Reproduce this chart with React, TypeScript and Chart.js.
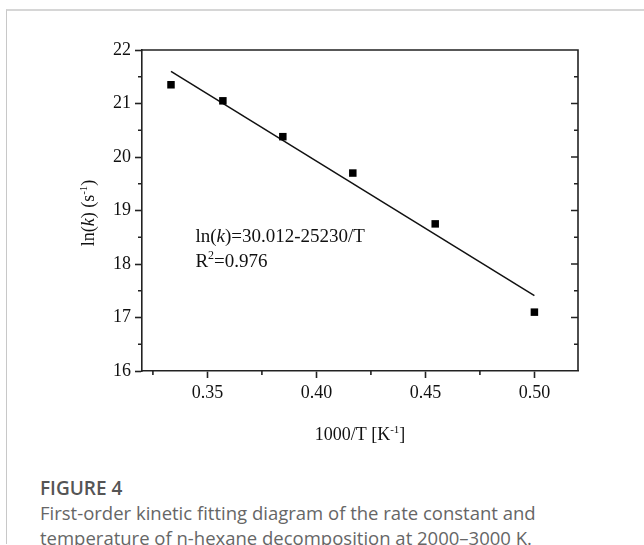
import React, { useEffect, useRef } from "react";
import { Chart, registerables } from "chart.js";

Chart.register(...registerables);

// ---- data ----
const invT = [0.3333, 0.3571, 0.3846, 0.4167, 0.4545, 0.5];
const lnK = [21.35, 21.05, 20.38, 19.7, 18.75, 17.1];
const fitInvT = [0.3333, 0.5];
const fitLnK = [21.6, 17.41];
const xMajorTicks = [0.35, 0.4, 0.45, 0.5];
const xMinorTicks = [0.325, 0.375, 0.425, 0.475];
const yMajorTicks = [16, 17, 18, 19, 20, 21, 22];
const yMinorTicks = [16.5, 17.5, 18.5, 19.5, 20.5, 21.5];
const xTitle = [{ t: "1000/T [K" }, { t: "-1", sup: true }, { t: "]" }];
const yTitle = [{ t: "ln(" }, { t: "k", i: true }, { t: ") (s" }, { t: "-1", sup: true }, { t: ")" }];
const eqLine = [{ t: "ln(" }, { t: "k", i: true }, { t: ")=30.012-25230/T" }];
const r2Line = [{ t: "R" }, { t: "2", sup: true }, { t: "=0.976" }];
const captionTitle = "FIGURE 4";
const captionText =
  "First-order kinetic fitting diagram of the rate constant and temperature of n-hexane decomposition at 2000\u20133000 K.";

const SERIF = "'Liberation Serif', 'Times New Roman', serif";
const AXIS = "#222";

type Seg = { t: string; i?: boolean; sup?: boolean };

function drawRich(ctx: CanvasRenderingContext2D, segs: Seg[], x: number, y: number, size: number, align: "left" | "center") {
  const fontOf = (s: Seg) => `${s.i ? "italic " : ""}${s.sup ? Math.round(size * 0.62) : size}px ${SERIF}`;
  let total = 0;
  const widths = segs.map((s) => {
    ctx.font = fontOf(s);
    const w = ctx.measureText(s.t).width;
    total += w;
    return w;
  });
  let cx = align === "center" ? x - total / 2 : x;
  ctx.textAlign = "left";
  ctx.textBaseline = "alphabetic";
  ctx.fillStyle = "#111";
  segs.forEach((s, k) => {
    ctx.font = fontOf(s);
    ctx.fillText(s.t, cx, s.sup ? y - size * 0.4 : y);
    cx += widths[k];
  });
}

const framePlugin = {
  id: "framePlugin",
  afterDraw(chart: any) {
    const ctx: CanvasRenderingContext2D = chart.ctx;
    const { left, right, top, bottom } = chart.chartArea;
    const xs = chart.scales.x;
    const ys = chart.scales.y;
    ctx.save();
    ctx.strokeStyle = AXIS;
    ctx.lineWidth = 1.6;
    ctx.beginPath();
    // top and right frame
    ctx.moveTo(left, top);
    ctx.lineTo(right, top);
    ctx.lineTo(right, bottom);
    // minor ticks: outward on left, inward on right
    yMinorTicks.forEach((v) => {
      const py = ys.getPixelForValue(v);
      ctx.moveTo(left, py);
      ctx.lineTo(left - 4, py);
      ctx.moveTo(right, py);
      ctx.lineTo(right - 4, py);
    });
    yMajorTicks.forEach((v) => {
      if (v === yMajorTicks[0] || v === yMajorTicks[yMajorTicks.length - 1]) return;
      const py = ys.getPixelForValue(v);
      ctx.moveTo(right, py);
      ctx.lineTo(right - 7, py);
    });
    xMinorTicks.forEach((v) => {
      const px = xs.getPixelForValue(v);
      ctx.moveTo(px, bottom);
      ctx.lineTo(px, bottom + 4);
    });
    ctx.stroke();

    // annotation
    const ax = xs.getPixelForValue(0.3445);
    drawRich(ctx, eqLine, ax, 242, 19, "left");
    drawRich(ctx, r2Line, ax, 267, 19, "left");

    // axis titles
    drawRich(ctx, xTitle, (left + right) / 2, 440, 18, "center");
    ctx.save();
    ctx.translate(94, 213);
    ctx.rotate(-Math.PI / 2);
    drawRich(ctx, yTitle, 0, 0, 18, "center");
    ctx.restore();
    ctx.restore();
  },
};

function ChartCanvas() {
  const ref = useRef<HTMLCanvasElement | null>(null);
  useEffect(() => {
    if (!ref.current) return;
    const chart = new Chart(ref.current, {
      type: "scatter",
      data: {
        datasets: [
          {
            label: "data",
            data: invT.map((x, k) => ({ x, y: lnK[k] })),
            pointStyle: "rect",
            pointRadius: 5.3,
            backgroundColor: "#000",
            borderWidth: 0,
            showLine: false,
          },
          {
            label: "fit",
            data: fitInvT.map((x, k) => ({ x, y: fitLnK[k] })),
            showLine: true,
            pointRadius: 0,
            borderColor: "#111",
            borderWidth: 1.5,
          },
        ],
      },
      options: {
        animation: false,
        responsive: false,
        maintainAspectRatio: false,
        layout: { padding: { top: 50, right: 66, left: 0, bottom: 0 } },
        plugins: { legend: { display: false }, tooltip: { enabled: false } },
        scales: {
          x: {
            type: "linear",
            min: 0.32,
            max: 0.52,
            afterBuildTicks: (s: any) => {
              s.ticks = xMajorTicks.map((v) => ({ value: v }));
            },
            afterFit: (s: any) => {
              s.height = 89;
            },
            ticks: {
              callback: (v: any) => Number(v).toFixed(2),
              font: { family: SERIF, size: 18 },
              color: "#111",
              padding: 4,
              maxRotation: 0,
              autoSkip: false,
            },
            grid: { drawOnChartArea: false, drawTicks: true, tickLength: 7, tickWidth: 1.6, tickColor: AXIS },
            border: { display: true, color: AXIS, width: 1.6 },
          },
          y: {
            type: "linear",
            min: 16,
            max: 22,
            afterBuildTicks: (s: any) => {
              s.ticks = yMajorTicks.map((v) => ({ value: v }));
            },
            afterFit: (s: any) => {
              s.width = 142;
            },
            ticks: {
              callback: (v: any) => String(v),
              font: { family: SERIF, size: 18 },
              color: "#111",
              padding: 4,
              autoSkip: false,
            },
            grid: { drawOnChartArea: false, drawTicks: true, tickLength: 7, tickWidth: 1.6, tickColor: AXIS },
            border: { display: true, color: AXIS, width: 1.6 },
          },
        },
      },
      plugins: [framePlugin],
    });
    return () => chart.destroy();
  }, []);
  return <canvas ref={ref} width={644} height={460} style={{ position: "absolute", left: 0, top: 0, width: 644, height: 460 }} />;
}

export default function App() {
  return (
    <div style={{ position: "absolute", left: 0, top: 0, width: 644, height: 545, background: "#fff", overflow: "hidden" }}>
      <div
        style={{
          position: "absolute",
          left: 6,
          top: 9,
          width: 700,
          height: 533,
          borderTop: "2px solid #d6d6d6",
          borderLeft: "1px solid #c8c8c8",
        }}
      />
      <ChartCanvas />
      <div
        style={{
          position: "absolute",
          left: 40,
          top: 476,
          fontFamily: "'Open Sans', sans-serif",
          fontWeight: 600,
          fontSize: 19,
          color: "#555",
          lineHeight: "24px",
        }}
      >
        {captionTitle}
      </div>
      <div
        style={{
          position: "absolute",
          left: 40,
          top: 500,
          width: 580,
          fontFamily: "'Open Sans', sans-serif",
          fontSize: 18.5,
          color: "#666",
          lineHeight: "25px",
          whiteSpace: "normal",
        }}
      >
        {captionText}
      </div>
    </div>
  );
}
